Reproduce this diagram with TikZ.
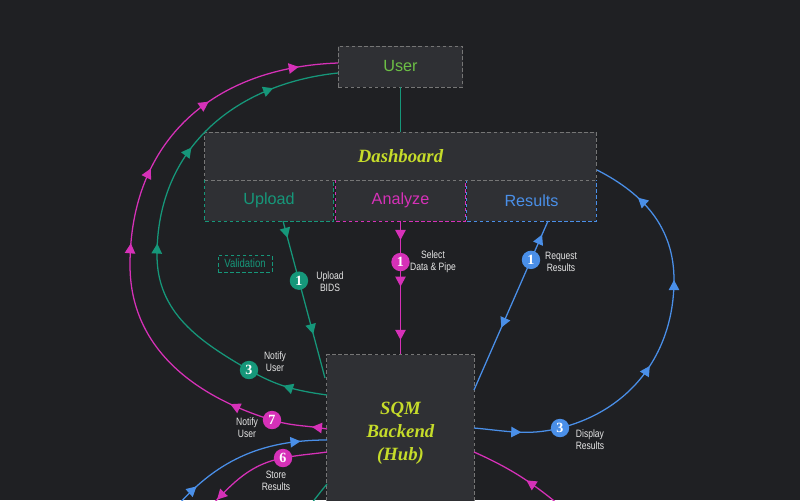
\documentclass[tikz,border=0pt]{standalone}
\usepackage{fontspec}
\setmainfont{Liberation Sans}
\newfontfamily\labfont[FakeStretch=0.8]{Liberation Sans}
\newfontfamily\titfont{Liberation Serif}
\usetikzlibrary{arrows.meta,decorations.markings}
\definecolor{bgc}{HTML}{1F2023}
\definecolor{boxc}{HTML}{2F3034}
\definecolor{edgec}{HTML}{767676}
\definecolor{grn}{HTML}{16977A}
\definecolor{mag}{HTML}{D631B8}
\definecolor{blu}{HTML}{4A8FE8}
\definecolor{ttl}{HTML}{C6DC2A}
\definecolor{usr}{HTML}{6CBF45}
\definecolor{txt}{HTML}{E6E6E6}
\newcommand\tri{\arrow{Triangle[length=2.5mm,width=2.6mm]}}
\newcommand\irt{\arrowreversed{Triangle[length=2.5mm,width=2.6mm]}}
\tikzset{
  dashln/.style={dash pattern=on 2.5pt off 1.8pt,line width=0.7pt},
  box/.style={dashln,draw=edgec,fill=boxc,inner sep=0pt},
  sub/.style={fill=boxc,inner sep=0pt,minimum height=1.025cm,text=#1,font=\fontsize{11.5}{12}\selectfont},
  flow/.style={line width=0.9pt},
  num/.style={circle,fill=#1,text=white,minimum size=0.46cm,inner sep=0pt,font=\titfont\bfseries\fontsize{10}{10}\selectfont},
  lab/.style={text=txt,align=center,font=\labfont\fontsize{7.6}{8.4}\selectfont},
  midtips/.style={postaction={decorate},decoration={markings,#1}},
  titl/.style={text=ttl,align=center,font=\titfont\bfseries\itshape\fontsize{13.3}{16.4}\selectfont}
}
\begin{document}
\begin{tikzpicture}[x=0.025cm,y=-0.025cm]
\useasboundingbox (0,0) rectangle (800,500);
\fill[bgc] (0,0) rectangle (800,500);
\clip (0,0) rectangle (800,500);

\node[box,minimum width=3.1cm,minimum height=1.025cm,text=usr,font=\fontsize{11.5}{12}\selectfont] (user) at (400.5,66.5) {User};
\node[sub=grn,minimum width=3.2cm] (upload) at (269,200.5) {Upload};
\node[sub=mag,minimum width=3.225cm] (analyze) at (400.5,200.5) {Analyze};
\node[sub=blu,minimum width=3.225cm] (results) at (531.5,200.5) {Results};
\draw[dashln,grn] (upload.north west) -- (upload.south west) -- (upload.south east) -- (upload.north east);
\draw[dashln,mag] (analyze.north west) -- (analyze.south west) -- (analyze.south east) -- (analyze.north east);
\draw[dashln,blu] (results.north west) -- (results.south west) -- (results.south east) -- (results.north east);
\node[box,minimum width=9.775cm,minimum height=1.2cm,titl] (dash) at (400.5,156) {Dashboard};
\node[box,minimum width=3.675cm,minimum height=3.9cm,titl] (hub) at (400.5,433) {SQM\\Backend\\(Hub)};
\node[dashln,draw=grn,text=grn,minimum width=1.35cm,minimum height=0.425cm,inner sep=0pt,font=\labfont\fontsize{8.5}{9}\selectfont] (valid) at (245,263.5) {Validation};

\coordinate (upst) at (283,221);
\coordinate (upend) at (325,378);
\coordinate (rest) at (548,221);
\coordinate (hube0) at (474,390);
\coordinate (hube1) at (474,428);
\coordinate (hube2) at (474,452);
\coordinate (dashe) at (597,170);
\coordinate (c3di) at (560,428);
\coordinate (br) at (674,280);
\coordinate (hubw2) at (327,395);
\coordinate (c3no) at (249,370);
\coordinate (gl) at (157,255);
\coordinate (userw2) at (338,73);
\coordinate (hubw3) at (327,429);
\coordinate (c7no) at (272,420);
\coordinate (ml) at (130,265);
\coordinate (userw1) at (338,63);
\coordinate (hubw4) at (327,440);
\coordinate (bbl) at (172,512);
\coordinate (hubw5) at (327,452);
\coordinate (c6st) at (283,458);
\coordinate (mbl) at (203,514);
\coordinate (hubw6) at (327,484);
\coordinate (gbl) at (303,514);
\coordinate (mbr) at (570,514);

\draw[flow,grn] (user.south) -- (dash.north);

\draw[flow,grn,midtips={mark=at position 0.107 with {\tri},mark=at position 0.72 with {\tri}}]
  (upst) -- (upend) node[num=grn,pos=0.38] (n1up) {1};
\draw[flow,mag,midtips={mark=at position 0.14 with {\tri},mark=at position 0.49 with {\tri},mark=at position 0.89 with {\tri}}]
  (analyze.south) -- (hub.north) node[num=mag,pos=0.306] (n1an) {1};
\draw[flow,blu,midtips={mark=at position 0.37 with {\irt},mark=at position 0.92 with {\tri}}]
  (hube0) -- (rest) node[num=blu,pos=0.77] (n1re) {1};

\draw[flow,blu,midtips={mark=at position 0.11 with {\tri},mark=at position 0.46 with {\tri},mark=at position 0.67 with {\tri},mark=at position 0.885 with {\tri}}]
  (hube1) to[out=-5,in=194] (c3di) to[out=14,in=-90] (br) to[out=90,in=-27] (dashe);
\draw[flow,grn,midtips={mark=at position 0.086 with {\tri},mark=at position 0.478 with {\tri},mark=at position 0.676 with {\tri},mark=at position 0.872 with {\tri}}]
  (hubw2) to[out=172,in=-30] (c3no) to[out=150,in=-90] (gl) to[out=90,in=186,looseness=1.05] (userw2);
\draw[flow,mag,midtips={mark=at position 0.025 with {\tri},mark=at position 0.165 with {\tri},mark=at position 0.5 with {\tri},mark=at position 0.628 with {\tri},mark=at position 0.775 with {\tri},mark=at position 0.935 with {\tri}}]
  (hubw3) to[out=170,in=-17] (c7no) to[out=163,in=-90] (ml) to[out=90,in=182,looseness=1.1] (userw1);
\draw[flow,blu,midtips={mark=at position 0.2 with {\tri},mark=at position 0.85 with {\tri}}]
  (bbl) to[out=50,in=180] (hubw4);
\draw[flow,mag,midtips={mark=at position 0.86 with {\tri}}]
  (hubw5) to[out=188,in=11] (c6st) to[out=191,in=45] (mbl);
\draw[flow,grn] (hubw6) to[out=230,in=50] (gbl);
\draw[flow,mag,midtips={mark=at position 0.48 with {\tri}}]
  (mbr) to[out=140,in=-24] (hube2);

\node[num=blu] (n3di) at (c3di) {3};
\node[num=grn] (n3no) at (c3no) {3};
\node[num=mag] (n7no) at (c7no) {7};
\node[num=mag] (n6st) at (c6st) {6};

\node[lab] (l1up) at (330,282) {Upload\\BIDS};
\node[lab] (l1an) at (433,262) {Select\\Data \& Pipe};
\node[lab] (l1re) at (561,262) {Request\\Results};
\node[lab] (l3no) at (275,362) {Notify\\User};
\node[lab] (l7no) at (247,428) {Notify\\User};
\node[lab] (l6st) at (276,481) {Store\\Results};
\node[lab] (l3di) at (590,440) {Display\\Results};
\end{tikzpicture}
\end{document}
